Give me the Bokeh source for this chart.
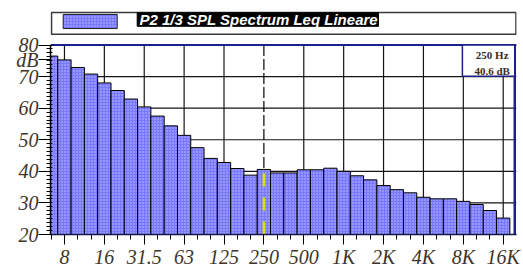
from bokeh.plotting import figure
from bokeh.models import Range1d, FixedTicker, Label, BoxAnnotation, ColumnDataSource
from bokeh.embed import file_html
from bokeh.resources import INLINE
from bokeh.core.properties import value

# ---- data ----
bands = ["6.3", "8", "10", "12.5", "16", "20", "25", "31.5", "40", "50", "63", "80",
         "100", "125", "160", "200", "250", "315", "400", "500", "630", "800", "1K",
         "1.25K", "1.6K", "2K", "2.5K", "3.15K", "4K", "5K", "6.3K", "8K", "10K",
         "12.5K", "16K"]
levels = [76.5, 75.3, 72.9, 70.8, 68.0, 65.6, 62.9, 60.4, 57.5, 54.4, 51.4, 47.5,
          44.1, 42.8, 40.9, 38.8, 40.6, 39.5, 39.5, 40.5, 40.5, 41.0, 40.0,
          38.6, 37.3, 35.5, 34.2, 33.2, 31.8, 31.3, 31.3, 30.5, 29.5,
          27.6, 25.2]
tick_labels = ["8", "16", "31.5", "63", "125", "250", "500", "1K", "2K", "4K", "8K", "16K"]
y_ticks = [20, 30, 40, 50, 60, 70, 80]
unit_label = "dB"
unit_pos = 75.3
cursor_band = "250"
title = "P2 1/3 SPL Spectrum Leq Lineare"

BAR_FILL = "#7878ff"
HATCH = "#c4c4ff"
LABEL_COLOR = "#3f3428"
NAVY = "#1e1e8c"

xs = list(range(len(bands)))
ci = bands.index(cursor_band)
major = [bands.index(t) for t in tick_labels]
y0, y1 = y_ticks[0], y_ticks[-1]

# ---- layout geometry (canvas pixels) ----
W, H = 521, 270
F_LEFT, F_RIGHT, F_TOP, F_BOTTOM = 50, 516, 10, 237
PLOT_TOP = 45                                   # canvas y of the top value
px_per_db = (F_BOTTOM - PLOT_TOP) / (y1 - y0)
y_top = y1 + (PLOT_TOP - F_TOP) / px_per_db
x_lo, x_hi = -0.05, 35.0

p = figure(width=W, height=H, x_range=Range1d(x_lo, x_hi), y_range=Range1d(y0, y_top),
           min_border_left=F_LEFT, min_border_right=W - F_RIGHT,
           min_border_top=F_TOP, min_border_bottom=H - F_BOTTOM,
           toolbar_location=None, output_backend="svg")
p.outline_line_color = None
p.background_fill_color = "white"
p.grid.visible = False

# canvas-pixel ranges for the legend strip
p.extra_x_ranges = {"px": Range1d(F_LEFT, F_RIGHT)}
p.extra_y_ranges = {"py": Range1d(F_BOTTOM, F_TOP)}

# ---- grid (from tick positions) ----
grid_x = [m for m in major if m != ci]
p.segment(x0=grid_x, y0=[y0] * len(grid_x), x1=grid_x, y1=[y1] * len(grid_x),
          line_color="#151515", line_width=1.2)
p.segment(x0=[x_lo] * len(y_ticks), y0=y_ticks, x1=[x_hi] * len(y_ticks), y1=y_ticks,
          line_color="#151515", line_width=1.2)

# ---- bars ----
src = ColumnDataSource(dict(x=xs, top=levels))
p.vbar(x="x", top="top", bottom=y0, width=1, source=src,
       fill_color=BAR_FILL, hatch_pattern="dot", hatch_color=HATCH,
       hatch_scale=3, hatch_weight=1, line_color="black", line_width=1)

# ---- cursor ----
p.segment(x0=[ci], y0=[y1], x1=[ci], y1=[levels[ci]], line_color="black",
          line_width=1.2, line_dash="11 3")
p.segment(x0=[ci], y0=[y0], x1=[ci], y1=[levels[ci]], line_color="#e2e000",
          line_width=2.5, line_dash="13 11")

# ---- plot border (top & right navy) ----
p.segment(x0=[x_lo], y0=[y1], x1=[x_hi], y1=[y1], line_color=NAVY, line_width=2)
p.segment(x0=[34.87], y0=[y0], x1=[34.87], y1=[y1], line_color=NAVY, line_width=2.5)

# ---- info box ----
p.add_layout(BoxAnnotation(left=30.93, right=34.87, top=y1, bottom=70.1,
                           fill_color="white", fill_alpha=1.0,
                           line_color=NAVY, line_width=1.5, line_alpha=1.0))
p.add_layout(Label(x=33.17, y=76.7, text=f"{cursor_band} Hz", text_align="center",
                   text_baseline="middle", text_font="Liberation Serif",
                   text_font_style="bold", text_font_size="11px", text_color="#3a2a1a"))
p.add_layout(Label(x=33.17, y=71.9, text=f"{levels[ci]:.1f} dB", text_align="center",
                   text_baseline="middle", text_font="Liberation Serif",
                   text_font_style="bold", text_font_size="11px", text_color="#3a2a1a"))

# ---- legend strip (canvas pixel coordinates) ----
p.quad(left=[51], right=[515.5], top=[12], bottom=[34], fill_color="white",
       line_color="#3a3a3a", line_width=1.6, x_range_name="px", y_range_name="py")
p.quad(left=[62.7], right=[116.7], top=[14], bottom=[28.3], fill_color=BAR_FILL,
       hatch_pattern="dot", hatch_color=HATCH, hatch_scale=3, hatch_weight=1,
       line_color="#222222", line_width=1, x_range_name="px", y_range_name="py")
p.quad(left=[136.7], right=[378], top=[12.3], bottom=[26], fill_color="black",
       line_color="black", x_range_name="px", y_range_name="py")
p.text(x=[139], y=[19.3], text=[title], text_font=value("Liberation Sans"),
       text_font_style="bold italic", text_font_size="15px", text_color="white",
       text_baseline="middle", text_align="left", x_range_name="px", y_range_name="py")

# ---- x axis ----
p.xaxis.ticker = FixedTicker(ticks=major, minor_ticks=xs)
p.xaxis.major_label_overrides = {m: t for m, t in zip(major, tick_labels)}
p.xaxis.major_label_text_font = "Liberation Serif"
p.xaxis.major_label_text_font_style = "italic"
p.xaxis.major_label_text_font_size = "20px"
p.xaxis.major_label_text_color = LABEL_COLOR
p.xaxis.major_label_standoff = 1
p.xaxis.major_tick_out = 10
p.xaxis.major_tick_in = 0
p.xaxis.minor_tick_out = 5
p.xaxis.minor_tick_in = 0
p.xaxis.axis_line_color = "#141450"
p.xaxis.axis_line_width = 1.5
p.xaxis.major_tick_line_color = "black"
p.xaxis.minor_tick_line_color = "black"

# ---- y axis ----
y_minor = [y0 + k * 1.25 for k in range(int((y1 - y0) / 1.25) + 1)]
p.yaxis.ticker = FixedTicker(ticks=y_ticks + [unit_pos], minor_ticks=y_minor)
p.yaxis.major_label_overrides = {unit_pos: unit_label}
p.yaxis.bounds = (y0, y1)
p.yaxis.major_label_text_font = "Liberation Serif"
p.yaxis.major_label_text_font_style = "italic"
p.yaxis.major_label_text_font_size = "20px"
p.yaxis.major_label_text_color = LABEL_COLOR
p.yaxis.major_label_standoff = 0
p.yaxis.major_tick_out = 12
p.yaxis.major_tick_in = 0
p.yaxis.minor_tick_out = 4
p.yaxis.minor_tick_in = 2
p.yaxis.axis_line_color = "black"
p.yaxis.axis_line_width = 1.5
p.yaxis.major_tick_line_color = "black"
p.yaxis.minor_tick_line_color = "black"

open("out.html", "w").write(file_html(p, INLINE))
